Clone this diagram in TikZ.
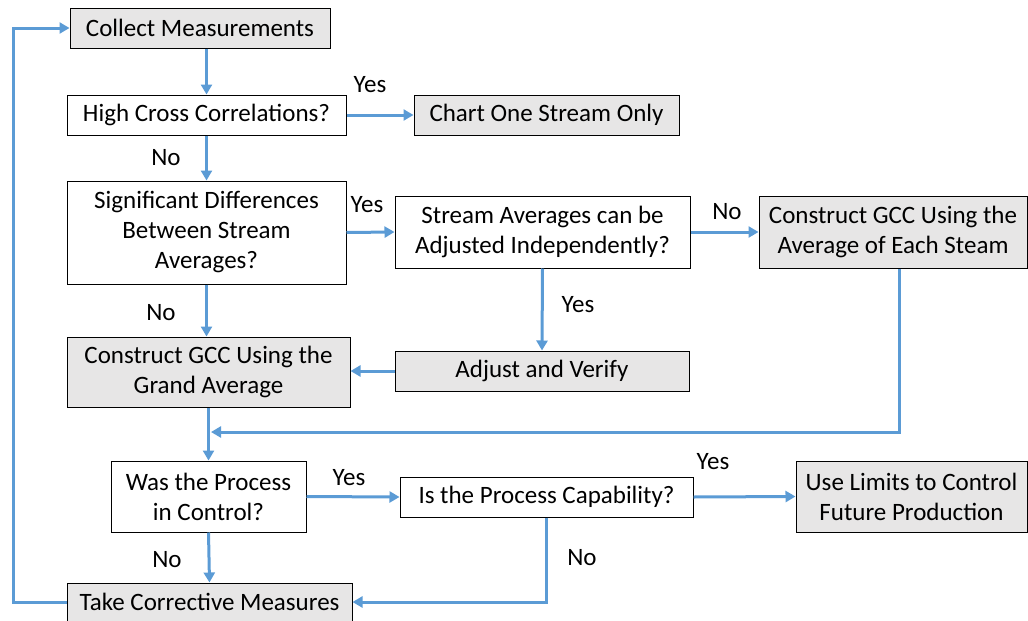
\documentclass[tikz,border=0pt]{standalone}
\usepackage{fontspec}
\setmainfont{Carlito}
\usetikzlibrary{arrows.meta}
\definecolor{flowblue}{HTML}{5B9BD5}
\definecolor{boxgray}{HTML}{E7E6E6}

\begin{document}
\begin{tikzpicture}[x=1pt,y=-1pt,
  box/.style={draw=black, line width=1pt, inner sep=0pt, align=center,
              font=\fontsize{25}{30}\selectfont},
  act/.style={box, fill=boxgray},
  ask/.style={box, fill=white},
  flow/.style={draw=flowblue, line width=3pt, -{Triangle[length=10pt,width=11pt]}},
  lbl/.style={font=\fontsize{25}{30}\selectfont, inner sep=0pt},
]
\useasboundingbox (0,0) rectangle (1028,621);

% process steps and decisions
\node[act, minimum width=260, minimum height=40] (collect) at (200,28) {Collect Measurements};
\node[ask, minimum width=279, minimum height=40] (cross) at (206.5,115) {High Cross Correlations?};
\node[act, minimum width=265, minimum height=40] (chart) at (546.5,115) {Chart One Stream Only};
\node[ask, minimum width=279, minimum height=103] (signif) at (206.5,232.5) {Significant Differences\\Between Stream\\Averages?};
\node[ask, minimum width=295, minimum height=72] (adjq) at (542.5,232) {Stream Averages can be\\Adjusted Independently?};
\node[act, minimum width=268, minimum height=72] (each) at (893,232) {Construct GCC Using the\\Average of Each Steam};
\node[act, minimum width=283, minimum height=70] (grand) at (208.5,372) {Construct GCC Using the\\Grand Average};
\node[act, minimum width=294, minimum height=40] (adjust) at (542,371) {Adjust and Verify};
\node[ask, minimum width=195, minimum height=71] (ctrl) at (208.5,496.5) {Was the Process\\in Control?};
\node[ask, minimum width=293, minimum height=40] (capab) at (546.5,497) {Is the Process Capability?};
\node[act, minimum width=231, minimum height=71] (limits) at (911.5,496.5) {Use Limits to Control\\Future Production};
\node[act, minimum width=285, minimum height=38] (correct) at (209.5,602) {Take Corrective Measures};

% free ends of the routed connectors
\coordinate (join) at (211,432);
\coordinate (drop) at (899,0);
\coordinate (loopL) at (13,0);

% connectors
\draw[flow] (collect.south -| cross.north) -- (cross.north);
\draw[flow] (cross.east) -- (chart.west);
\draw[flow] (cross.south) -- (signif.north);
\draw[flow] (signif.east) -- (adjq.west);
\draw[flow] (adjq.east) -- (each.west);
\draw[flow] (adjq.south) -- (adjust.north);
\draw[flow] (adjust.west) -- (grand.east |- adjust.west);
\draw[flow] (signif.south) -- (signif.south |- grand.north);
\draw[flow] (grand.south) -- (ctrl.north);
\draw[flow] (each.south -| drop) |- (join);
\draw[flow] (ctrl.east) -- (capab.west);
\draw[flow] (capab.east) -- (limits.west);
\draw[flow] (ctrl.south) -- (correct.north);
\draw[flow] (capab.south) |- (correct.east);
\draw[flow] (correct.west) -- (correct.west -| loopL) |- (collect.west);

% branch labels
\node[lbl] (l1) at (370,85) {Yes};
\node[lbl] (l2) at (166,158) {No};
\node[lbl] (l3) at (367,205) {Yes};
\node[lbl] (l4) at (727,212) {No};
\node[lbl] (l5) at (578,305) {Yes};
\node[lbl] (l6) at (161,313) {No};
\node[lbl] (l7) at (349,478) {Yes};
\node[lbl] (l8) at (713,462) {Yes};
\node[lbl] (l9) at (167,560) {No};
\node[lbl] (l10) at (582,558) {No};
\end{tikzpicture}
\end{document}
